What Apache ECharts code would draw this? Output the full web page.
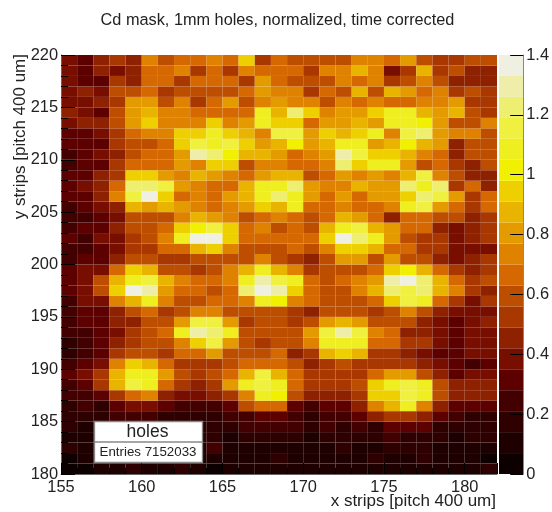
<!DOCTYPE html>
<html><head><meta charset="utf-8">
<style>html,body{margin:0;padding:0;background:#fff}#c{width:552px;height:512px}</style>
<script src="https://cdn.jsdelivr.net/npm/echarts@6/dist/echarts.min.js"></script>
</head><body><div id="c"></div>
<script>
const paletteColors = ['#0d0000','#1e0000','#2e0000','#430000','#5c0000','#780e00','#8e2200','#a93700','#bd4e00','#d56800','#de8200','#e39b00','#e9b400','#eed000','#f0f000','#eeee20','#f0f040','#eeee70','#eeeeaa','#f0f0e2'];
const row219=[.38,.31,.45,.52,.45,.73,.59,.66,.66,.73,.66,.94,.52,.66,.59,.59,.59,.59,.73,.73,.66,.8,.59,.52,.52,.59,.59];
const row218=[.38,.31,.45,.38,.45,.66,.66,.73,.52,.66,.52,.73,.66,.66,.66,.52,.73,.73,.87,.73,.38,.52,.87,.52,.59,.45,.45];
const row217=[.38,.31,.31,.52,.45,.66,.66,.52,.66,.66,.66,.52,.8,.66,.59,.59,.59,.73,.66,.73,.52,.59,.73,.59,.45,.45,.45];
const row216=[.38,.45,.38,.59,.59,.66,.52,.59,.59,.59,.59,.66,.8,.73,.73,.52,.66,.59,.87,.59,.87,.8,.66,.73,.52,.59,.52];
const row215=[.38,.38,.45,.52,.8,.8,.59,.73,.52,.66,.8,.59,.73,.8,.73,.73,.59,.73,.66,.73,.66,.66,.73,.73,.8,.52,.52];
const row214=[.45,.38,.31,.59,.8,.87,.73,.73,.66,.66,.66,.66,1.08,.87,1.22,.94,.73,.8,.8,.94,1.08,1.08,.87,.8,.87,.59,.52];
const row213=[.38,.45,.45,.59,.8,.94,.73,.73,.73,.94,.73,.8,1.08,.94,.94,.66,.8,.8,.87,.8,1.08,1.08,1.01,.8,.59,.59,.73];
const row212=[.31,.31,.38,.52,.66,.73,.73,.94,.94,1.08,.94,.87,.73,1.15,1.15,.8,.94,.87,.94,1.08,.73,1.15,1.22,.8,.73,.73,.59];
const row211=[.31,.31,.31,.52,.59,.59,.66,.94,1.15,1.08,1.15,.94,.8,.87,1.01,.8,.87,1.08,1.08,.8,.87,1.01,.87,.8,.45,.59,.59];
const row210=[.24,.31,.38,.45,.59,.66,.66,.8,1.29,1.22,1.01,.87,.87,.8,.66,.73,.8,1.29,1.15,.94,.94,.87,.73,.66,.45,.59,.59];
const row209=[.24,.31,.31,.52,.66,.66,.66,.8,.73,.94,.94,.59,.73,.73,.66,.66,.73,1.22,.94,1.08,1.08,.8,.59,.66,.52,.45,.59];
const row208=[.31,.31,.45,.52,.94,.94,.8,.73,.87,.8,.73,.66,.8,.87,.87,.59,.66,.8,.73,.8,.73,.87,1.15,.73,.59,.45,.45];
const row207=[.31,.38,.45,.66,1.22,1.22,1.15,.8,.73,.66,.66,.87,1.08,1.08,1.22,.8,.73,.73,.87,.8,.8,1.22,1.08,1.22,.52,.66,.45];
const row206=[.31,.31,.45,.73,1.15,1.36,.94,.66,.73,.66,.8,.87,1.08,1.22,1.08,.8,.66,.8,.66,.8,.8,.94,1.22,1.15,.8,.52,.66];
const row205=[.24,.31,.38,.45,.87,.8,.87,.8,.73,.66,.73,.8,.94,.87,1.08,.66,.66,.73,.66,.66,.73,1.08,1.15,.8,.66,.52,.66];
const row204=[.24,.24,.31,.38,.59,.59,.59,.73,.87,.8,.73,.59,.66,.73,.66,.59,.66,.87,.8,.66,.45,.66,.66,.59,.59,.45,.52];
const row203=[.24,.31,.31,.45,.59,.59,.66,.94,1.01,1.15,.94,.66,.73,.59,.66,.59,.87,1.08,1.15,.87,.8,.66,.66,.45,.38,.45,.52];
const row202=[.31,.24,.38,.38,.52,.59,.73,1.08,1.36,1.36,.94,.66,.66,.66,.66,.66,.94,1.36,1.22,1.08,.8,.59,.52,.52,.38,.45,.52];
const row201=[.24,.24,.31,.38,.52,.52,.66,.66,.87,.94,.73,.59,.59,.59,.66,.59,.73,.94,.94,.87,.66,.66,.52,.52,.38,.38,.38];
const row200=[.24,.31,.31,.45,.59,.59,.52,.52,.59,.59,.59,.59,.73,.59,.52,.45,.59,.8,.8,.59,.8,.59,.59,.45,.38,.45,.52];
const row199=[.31,.38,.38,.66,.94,.87,.59,.59,.52,.59,.73,.87,1.08,.87,.73,.52,.59,.59,.59,.66,.94,1.01,.87,.66,.52,.45,.52];
const row198=[.31,.38,.59,.87,1.08,1.15,.87,.73,.66,.66,.73,1.08,1.29,1.15,1.08,.66,.59,.66,.73,.8,1.29,1.36,1.22,.87,.66,.52,.59];
const row197=[.31,.38,.59,.94,1.36,1.29,.8,.66,.66,.59,.66,1.22,1.36,1.29,.94,.66,.59,.59,.73,.87,1.22,1.15,1.22,.87,.73,.52,.45];
const row196=[.24,.38,.38,.73,.87,1.08,.73,.59,.59,.66,.66,.73,1.08,1.01,.73,.66,.59,.59,.59,.66,.94,1.15,1.08,.66,.52,.38,.52];
const row195=[.24,.31,.31,.45,.59,.66,.52,.59,.73,.73,.59,.59,.59,.59,.52,.45,.59,.59,.59,.52,.59,.73,.59,.45,.38,.38,.38];
const row194=[.24,.31,.31,.45,.45,.59,.59,.8,1.15,1.15,.8,.52,.59,.59,.52,.59,.8,.87,.8,.59,.59,.59,.45,.38,.31,.38,.45];
const row193=[.24,.24,.31,.38,.52,.59,.66,1.08,1.29,1.22,1.08,.59,.59,.59,.59,.8,1.15,1.29,1.15,.73,.66,.45,.45,.38,.31,.38,.38];
const row192=[.17,.24,.31,.45,.52,.59,.59,.73,.94,1.15,.8,.59,.52,.59,.59,.73,1.08,1.08,1.08,.66,.66,.52,.52,.38,.31,.38,.38];
const row191=[.17,.24,.31,.52,.59,.59,.52,.66,.66,.8,.59,.59,.59,.66,.45,.52,.87,.94,.87,.52,.52,.45,.38,.31,.31,.38,.38];
const row190=[.24,.31,.38,.73,.94,.87,.66,.52,.52,.52,.59,.66,.66,.66,.59,.45,.52,.59,.52,.52,.52,.52,.45,.38,.31,.24,.31];
const row189=[.31,.38,.52,.87,1.08,1.08,.8,.59,.52,.59,.66,.87,1.15,.87,.66,.52,.52,.52,.52,.66,.8,.8,.59,.45,.31,.38,.38];
const row188=[.24,.31,.52,.87,1.15,1.08,.66,.52,.45,.52,.8,1.08,1.15,1.08,.66,.52,.52,.52,.59,.94,1.08,1.15,1.08,.59,.45,.45,.45];
const row187=[.24,.24,.31,.52,.66,.73,.45,.38,.38,.45,.52,.73,1.08,1.01,.59,.45,.45,.45,.52,.94,.94,1.15,1.08,.59,.45,.45,.45];
const row186=[.17,.24,.17,.31,.38,.38,.31,.24,.24,.24,.31,.59,.66,.66,.31,.24,.31,.31,.45,.73,.87,1.08,.73,.45,.31,.31,.31];
const row185=[.17,.17,.17,.24,.24,.24,.17,.17,.17,.17,.24,.24,.31,.31,.24,.17,.24,.24,.31,.45,.52,.52,.45,.31,.24,.17,.17];
const row184=[.17,.1,.17,.17,.17,.17,.17,.17,.17,.17,.17,.24,.24,.24,.24,.17,.24,.17,.24,.17,.31,.31,.31,.17,.17,.17,.17];
const row183=[.1,.1,.1,.17,.17,.17,.17,.17,.17,.17,.1,.17,.17,.17,.17,.1,.17,.17,.17,.17,.24,.17,.17,.17,.1,.17,.17];
const row182=[.17,.1,.1,.1,.1,.1,.1,.1,.1,.24,.1,.1,.1,.1,.1,.1,.1,.17,.1,.1,.17,.17,.17,.1,.1,.1,.1];
const row181=[.04,.1,.1,.1,.1,.1,.1,.1,.1,.1,.1,.1,.1,.17,.1,.1,.1,.1,.1,.17,.1,.1,.17,.1,.1,.1,.04];
const row180=[.04,.04,.1,.1,.17,.1,.1,.17,.1,.04,.1,.1,.1,.1,.1,.1,.1,.1,.1,.1,.1,.1,.1,.1,.1,.1,.17];
const rows=[row180,row181,row182,row183,row184,row185,row186,row187,row188,row189,row190,row191,row192,row193,row194,row195,row196,row197,row198,row199,row200,row201,row202,row203,row204,row205,row206,row207,row208,row209,row210,row211,row212,row213,row214,row215,row216,row217,row218,row219];
const xFirst=155, yFirst=180, binStep=0.07;
const titleText='Cd mask, 1mm holes, normalized, time corrected';
const xName='x strips [pitch 400 um]', yName='y strips [pitch 400 um]';
const statName='holes', statEntries='Entries 7152033';

const font='"Liberation Sans", Arial, sans-serif';
const cells=[];
rows.forEach((r,j)=>r.forEach((v,i)=>cells.push([xFirst+i,yFirst+j,v])));
const colorOf=v=>paletteColors[Math.min(paletteColors.length-1,Math.floor(v/binStep))];
const chart=echarts.init(document.getElementById('c'),null,{renderer:'canvas'});
const tick={color:'#000',width:1};
const edge=c=>({show:true,onZero:false,lineStyle:{color:c,width:1}});
chart.setOption({
  animation:false,
  backgroundColor:'#fff',
  grid:[
    {left:61,top:55,width:436,height:419,show:false},
    {left:499,top:55,width:25,height:419,show:false}
  ],
  xAxis:[
    {type:'value',gridIndex:0,min:155,max:182,interval:5,z:10,
     axisLine:edge('#666'),
     axisTick:{show:true,inside:true,length:11,lineStyle:tick},
     minorTick:{show:true,splitNumber:5,length:6,lineStyle:tick},
     splitLine:{show:false},
     axisLabel:{fontFamily:font,fontSize:16.4,color:'#222',margin:5,showMaxLabel:false,hideOverlap:false}},
    {type:'category',gridIndex:1,data:['z'],show:false}
  ],
  yAxis:[
    {type:'value',gridIndex:0,min:180,max:220,interval:5,z:10,
     axisLine:edge('#666'),
     axisTick:{show:true,inside:true,length:14,lineStyle:tick},
     minorTick:{show:true,splitNumber:5,length:7,lineStyle:tick},
     splitLine:{show:false},
     axisLabel:{fontFamily:font,fontSize:16.4,color:'#222',margin:3}},
    {type:'value',gridIndex:1,position:'right',min:0,max:1.4,interval:0.2,z:10,
     axisLine:edge('#888'),
     axisTick:{show:true,inside:true,length:13,lineStyle:tick},
     splitLine:{show:false},
     axisLabel:{fontFamily:font,fontSize:16.4,color:'#222',margin:3}}
  ],
  series:[
    {type:'custom',xAxisIndex:0,yAxisIndex:0,data:cells,encode:{x:0,y:1},silent:true,
     renderItem:(p,api)=>{
       const x=api.value(0),y=api.value(1);
       const a=api.coord([x,y+1]),b=api.coord([x+1,y]);
       return {type:'rect',shape:{x:a[0],y:a[1],width:b[0]-a[0],height:b[1]-a[1]},
               style:{fill:colorOf(api.value(2))}};
     }},
    ...paletteColors.map(c=>({type:'bar',xAxisIndex:1,yAxisIndex:1,stack:'scale',barWidth:'100%',silent:true,
      data:[binStep],itemStyle:{color:c}}))
  ],
  graphic:[
    {type:'text',z:100,x:277.5,y:20.5,style:{text:titleText,font:'16.3px '+font,fill:'#222',align:'center',verticalAlign:'middle'}},
    {type:'text',z:100,x:496,y:501,style:{text:xName,font:'17px '+font,fill:'#222',align:'right',verticalAlign:'middle'}},
    {type:'text',z:100,x:20,y:54,rotation:Math.PI/2,style:{text:yName,font:'17px '+font,fill:'#222',align:'right',verticalAlign:'middle'}},
    {type:'rect',z:100,shape:{x:94.5,y:421.5,width:108,height:41},style:{fill:'#fff',stroke:'#888',lineWidth:1.3}},
    {type:'line',z:100,shape:{x1:94,y1:442,x2:203,y2:442},style:{stroke:'#888',lineWidth:1.3}},
    {type:'text',z:101,x:147.5,y:432,style:{text:statName,font:'17.5px '+font,fill:'#222',align:'center',verticalAlign:'middle'}},
    {type:'text',z:101,x:148,y:452.5,style:{text:statEntries,font:'13.3px '+font,fill:'#222',align:'center',verticalAlign:'middle'}}
  ]
});
</script></body></html>
